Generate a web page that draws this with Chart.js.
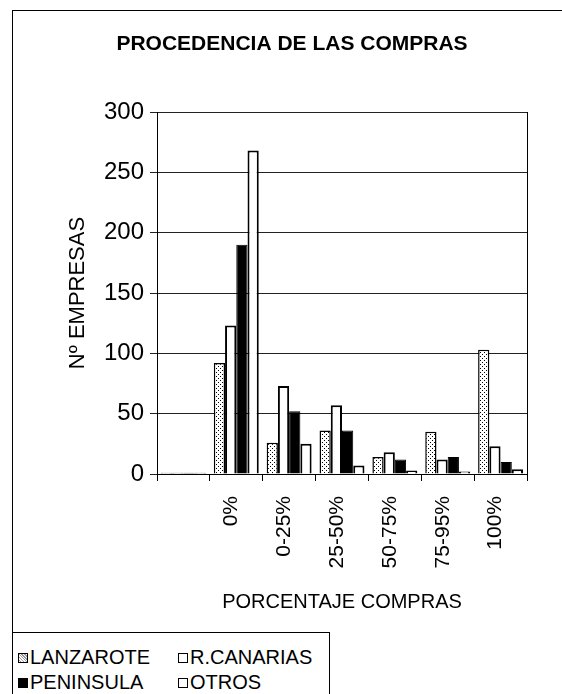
<!DOCTYPE html>
<html>
<head>
<meta charset="utf-8">
<script src="https://cdn.jsdelivr.net/npm/chart.js@4/dist/chart.umd.min.js"></script>
<style>
  html, body { margin: 0; padding: 0; background: #fff; }
  #wrap { position: relative; width: 562px; height: 694px; overflow: hidden; font-family: "Liberation Sans", Arial, sans-serif; }
  #frame { position: absolute; left: 12px; top: 10px; width: 600px; height: 720px; border-top: 1px solid #000; border-left: 1px solid #000; }
  #chart { position: absolute; left: 0; top: 0; }
  #legend { position: absolute; left: 12px; top: 632px; width: 318px; height: 90px; border: 1px solid #000; background: #fff;
            display: grid; grid-template-columns: 160px 158px; grid-auto-rows: 25px; padding-top: 12px; box-sizing: border-box; }
  .item { font-size: 20px; line-height: 25px; color: #000; white-space: nowrap; padding-left: 5px; }
  .box { display: inline-block; width: 8px; height: 8px; border: 1.5px solid #000; margin-right: 2px; vertical-align: 1px; }
</style>
</head>
<body>
<div id="wrap">
  <div id="frame"></div>
  <canvas id="chart" width="562" height="694"></canvas>
  <div id="legend"></div>
</div>
<script>
const categories = ['', '0%', '0-25%', '25-50%', '50-75%', '75-95%', '100%'];
const lanzarote  = [1, 92, 26, 36, 14, 35, 103];
const rCanarias  = [1, 123, 73, 57, 18, 12, 23];
const peninsula  = [1, 190, 52, 36, 12, 14, 10];
const otros      = [1, 268, 25, 7, 3, 2, 4];
const yTicks = [0, 50, 100, 150, 200, 250, 300];

const FONT = '"Liberation Sans", Arial, sans-serif';

// stippled fill for LANZAROTE
function dots() {
    let c = document.createElement('canvas');
    c.width = 4; c.height = 4;
    let g = c.getContext('2d');
    g.fillStyle = '#fff';
    g.fillRect(0, 0, 4, 4);
    g.fillStyle = '#000';
    g.fillRect(0, 0, 1, 1);
    g.fillRect(2, 2, 1, 1);
    return g.createPattern(c, 'repeat');
}
const stipple = dots();

const series = [
    { label: 'LANZAROTE', data: lanzarote, backgroundColor: stipple, borderWidth: 1.5, swatch: 'repeating-linear-gradient(45deg,#fff 0 1px,#999 1px 2px)' },
    { label: 'R.CANARIAS', data: rCanarias, backgroundColor: '#fff', borderWidth: 2, swatch: '#fff' },
    { label: 'PENINSULA', data: peninsula, backgroundColor: '#000', borderWidth: 1, swatch: '#000' },
    { label: 'OTROS', data: otros, backgroundColor: '#fff', borderWidth: 2, swatch: '#fff' }
];

// right wall of the plot
const rightWall = {
    id: 'rightWall',
    afterDraw(chart) {
        const a = chart.chartArea, ctx = chart.ctx;
        ctx.save();
        ctx.strokeStyle = '#000';
        ctx.lineWidth = 1;
        ctx.beginPath();
        ctx.moveTo(a.right + 0.5, a.top);
        ctx.lineTo(a.right + 0.5, a.bottom);
        ctx.stroke();
        ctx.restore();
    }
};

let ctx = document.getElementById('chart').getContext('2d');
let chart = new Chart(ctx, {
    type: 'bar',
    data: {
        labels: categories,
        datasets: series.map(s => ({
            label: s.label,
            data: s.data,
            backgroundColor: s.backgroundColor,
            borderColor: '#000',
            borderWidth: s.borderWidth,
            barPercentage: 1.0,
            categoryPercentage: 0.85
        }))
    },
    options: {
        responsive: false,
        animation: false,
        // left padding pushes the title's centre over the plot
        layout: { padding: { left: 57, right: 35, top: 0, bottom: 0 } },
        plugins: {
            legend: { display: false },
            tooltip: { enabled: false },
            title: {
                display: true,
                text: 'PROCEDENCIA DE LAS COMPRAS',
                color: '#000',
                font: { family: FONT, size: 21, weight: 'bold' },
                padding: { top: 31.4, bottom: 55.4 }
            }
        },
        scales: {
            x: {
                grid: { display: true, drawOnChartArea: false, drawTicks: true, tickLength: 7, color: '#000', offset: true },
                border: { color: '#000' },
                ticks: {
                    color: '#000', font: { family: FONT, size: 21 },
                    minRotation: 90, maxRotation: 90, padding: 15, autoSkip: false, labelOffset: -5
                },
                title: {
                    display: true, text: 'PORCENTAJE COMPRAS', color: '#000',
                    font: { family: FONT, size: 20 }, padding: { top: 0, bottom: 80 }
                },
                afterFit(s) { s.height = 694 - 474; }
            },
            y: {
                min: 0, max: 300,
                afterBuildTicks(s) { s.ticks = yTicks.map(v => ({ value: v })); },
                ticks: { color: '#000', font: { family: FONT, size: 24 }, padding: 6 },
                grid: { color: '#222', tickLength: 7 },
                border: { color: '#000' },
                title: {
                    display: true, text: 'Nº EMPRESAS', color: '#000',
                    font: { family: FONT, size: 22 }, padding: { top: 8, bottom: 0 }
                },
                afterFit(s) { s.width = 157 - 57; }
            }
        }
    },
    plugins: [rightWall]
});

// legend box, two per row
let leg = document.getElementById('legend');
series.forEach(s => {
    let d = document.createElement('div');
    d.className = 'item';
    d.innerHTML = '<span class="box" style="background:' + s.swatch + '"></span>' + s.label;
    leg.appendChild(d);
});
</script>
</body>
</html>
